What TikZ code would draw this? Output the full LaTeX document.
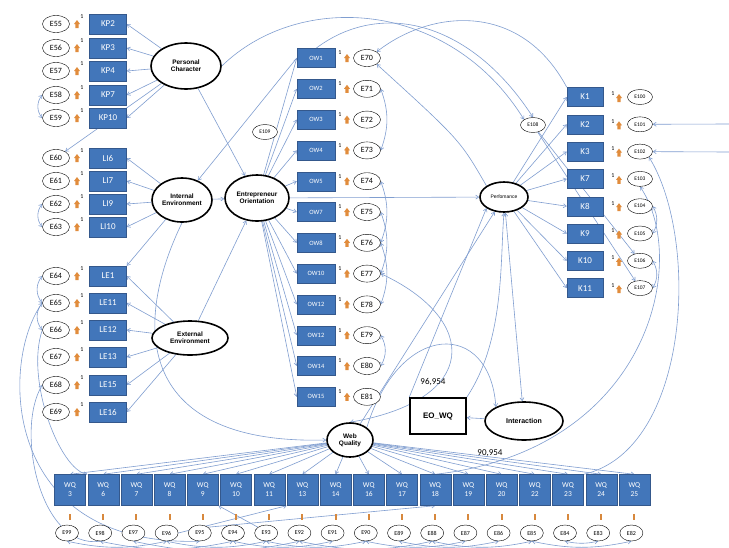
\documentclass[tikz,border=0pt]{standalone}
\usepackage{fontspec}
\setmainfont{Carlito}
\newfontfamily\latfont{Liberation Sans}
\usetikzlibrary{shapes.geometric,arrows.meta,backgrounds}
\definecolor{boxblue}{RGB}{66,118,186}
\definecolor{boxedge}{RGB}{52,88,140}
\definecolor{lineblue}{RGB}{128,158,208}
\definecolor{errorange}{RGB}{225,140,60}

\tikzset{
  ind/.style={draw=boxedge, fill=boxblue, text=white, minimum width=37pt, minimum height=20pt, inner sep=0pt, font=\fontsize{9}{9}\selectfont},
  owbox/.style={ind, minimum width=38pt, minimum height=19pt, font=\fontsize{6.5}{7}\selectfont},
  kbox/.style={ind, minimum width=36pt, minimum height=19pt},
  wqbox/.style={ind, minimum width=31pt, minimum height=31pt, align=center, font=\fontsize{7.5}{9}\selectfont},
  err/.style={draw, ellipse, fill=white, minimum width=27pt, minimum height=17pt, inner sep=0pt, font=\fontsize{8}{8}\selectfont},
  serr/.style={err, minimum width=25pt, minimum height=15pt, font=\fontsize{5.5}{6}\selectfont},
  wqerr/.style={err, minimum width=23pt, minimum height=16pt, font=\fontsize{6}{6}\selectfont},
  lat/.style={draw, ellipse, line width=1.6pt, fill=white, inner sep=0pt, align=center, font=\latfont\bfseries\fontsize{6.5}{7}\selectfont},
  link/.style={draw=lineblue, line width=0.6pt, -{Straight Barb[length=3pt,width=4pt]}},
  bid/.style={link, {Straight Barb[length=3pt,width=4pt]}-{Straight Barb[length=3pt,width=4pt]}},
  one/.style={font=\fontsize{6}{6}\selectfont, inner sep=0pt},
  pics/errtip/.style={code={\fill[errorange] (-1.6,4) rectangle (1.6,0) (-3,0) -- (3,0) -- (0,-4) -- cycle;}},
}

\begin{document}
\begin{tikzpicture}[x=1pt, y=-1pt]
\useasboundingbox (0,0) rectangle (729,547);

% left indicators
\foreach \lab/\e/\y in {KP2/55/24, KP3/56/48, KP4/57/71, KP7/58/95, KP10/59/118,
    LI6/60/158, LI7/61/181, LI9/62/204, LI10/63/227,
    LE1/64/276, LE11/65/303, LE12/66/330, LE13/67/357, LE15/68/385, LE16/69/412} {
  \node[ind] (\lab) at (108,\y) {\lab};
  \node[err] (e\e) at (56,\y) {E\e};
  \pic at (77,\y) {errtip};
  \node[one] at (82,\y-7) {1};
}

% latent variables
\node[lat, minimum width=70pt, minimum height=46pt] (pc) at (186,66) {Personal\\Character};
\node[lat, minimum width=60pt, minimum height=44pt] (ie) at (182,200) {Internal\\Environment};
\node[lat, minimum width=64pt, minimum height=46pt] (eo) at (257,198) {Entrepreneur\\Orientation};
\node[lat, minimum width=76pt, minimum height=34pt] (ee) at (190,338) {External\\Environment};
\node[lat, minimum width=48pt, minimum height=30pt, font=\latfont\fontsize{5}{5}\selectfont] (perf) at (504,197) {Perfomance};
\node[lat, minimum width=46pt, minimum height=34pt] (webq) at (350,440) {Web\\Quality};
\node[lat, minimum width=78pt, minimum height=38pt, font=\latfont\bfseries\fontsize{7}{7}\selectfont] (inter) at (524,421) {Interaction};
\node[draw, line width=1.5pt, fill=white, minimum width=56pt, minimum height=36pt, font=\latfont\bfseries\fontsize{8}{8}\selectfont] (eowq) at (438,416) {EO\_WQ};

% orientation items
\foreach \lab [count=\i] in {1,2,3,4,5,7,8,10,12,12,14,15} {
  \pgfmathsetmacro\y{58+(\i-1)*30.8}
  \pgfmathtruncatemacro\e{69+\i}
  \node[owbox] (ow\i) at (316,\y) {OW\lab};
  \node[err] (e\e) at (367,\y) {E\e};
  \pic at (347,\y) {errtip};
  \node[one] at (340,\y-5) {1};
}

% performance items
\foreach \lab [count=\i] in {1,2,3,7,8,9,10,11} {
  \pgfmathsetmacro\y{97+(\i-1)*27.3}
  \pgfmathtruncatemacro\e{99+\i}
  \node[kbox] (k\i) at (585,\y) {K\lab};
  \node[serr] (e\e) at (640,\y) {E\e};
  \pic at (619,\y+1) {errtip};
  \node[one] at (613,\y-3) {1};
}
\node[serr] (e108) at (533,125) {E108};
\node[serr] (e109) at (265,132) {E109};

% web quality items
\foreach \lab [count=\i] in {3,6,7,8,9,10,11,13,14,16,17,18,19,20,22,23,24,25} {
  \pgfmathsetmacro\x{70+(\i-1)*33.2}
  \pgfmathtruncatemacro\e{100-\i}
  \node[wqbox] (wq\i) at (\x,490) {WQ\\\lab};
  \node[wqerr] (e\e) at (\x-3,533) {E\e};
  \fill[errorange!70!brown] (\x-1,514) rectangle (\x+1,520);
}

\node[font=\fontsize{9}{9}\selectfont] (val1) at (433,382) {96,954};
\node[font=\fontsize{9}{9}\selectfont] (val2) at (490,453) {90,954};
\coordinate (rin1) at (729,124);
\coordinate (rin2) at (729,152);

\begin{scope}[on background layer]
\fill[white] (0,0) rectangle (729,547);
% loadings
\foreach \lab in {KP2,KP3,KP4,KP7,KP10} \draw[link] (pc) -- (\lab.east);
\foreach \lab in {LI6,LI7,LI9,LI10} \draw[link] (ie) -- (\lab.east);
\foreach \lab in {LE1,LE11,LE12,LE13,LE15,LE16} \draw[link] (ee) -- (\lab.east);
\foreach \i in {1,...,12} \draw[link] (eo) -- (ow\i.west);
\foreach \i in {1,...,8} \draw[link] (perf) -- (k\i.west);
\foreach \i in {1,...,18} \draw[link] (webq) -- (wq\i.north);
% structural paths
\draw[link] (pc) -- (eo);
\draw[link] (ie) -- (eo);
\draw[link] (ee) -- (eo);
\draw[link] (eo) -- (perf);
\draw[link] (inter) -- (eowq);
\draw[bid] (perf) -- (inter);
\draw[link] (webq) -- (perf);
\draw[link] (eowq.north west) -- (perf.south west);
\draw[link] (eowq.north east) .. controls (505,340) and (500,260) .. (perf.south);
\draw[link] (webq.north east) .. controls (400,320) and (490,320) .. (inter.north west);
\draw[bid] (webq.north) .. controls (480,400) and (480,320) .. (e77.east);
\draw[link] (perf.north west) .. controls (460,140) .. (e70.south east);
\draw[link] (ow1.west) -- (ie);
\draw[link] (pc) -- (e60);
\draw[link] (ie) -- (LE1.north east);
\draw[link] (ie.south) .. controls (130,330) and (140,445) .. (webq.west);
% top arcs
\draw[link] (pc.east) .. controls (300,-10) and (450,0) .. (e108.north west);
\draw[link] (ow1.north) .. controls (380,0) and (470,20) .. (e108.north);
\draw[link] (k1.north west) .. controls (520,0) and (430,10) .. (e70.north east);
\draw[link] (e108) -- (e106);
\draw[link] (e108) -- (e107);
\draw[link] (rin1) -- (e101);
\draw[link] (rin2) -- (e102);
\draw[link] (wq16.north east) .. controls (690,450) and (700,240) .. (e102.south east);
\draw[link] (wq12.north) .. controls (650,450) and (690,260) .. (e103.south);
% left curves
\draw[bid] (e58.west) to[bend right=40] (e59.west);
\draw[bid] (e62.west) to[bend right=40] (e63.west);
\draw[bid] (e64.west) to[bend right=40] (e65.west);
\draw[bid] (e65.west) to[bend right=40] (e66.west);
\draw[link] (e65.west) .. controls (0,360) and (0,547) .. (e95.south);
\draw[link] (e98.south) .. controls (40,550) and (15,430) .. (e68.west);
\draw[link] (e66.west) .. controls (25,380) and (60,470) .. (wq2.north west);
% error covariances
\draw[bid] (e71.east) to[bend left=20] (e73.east);
\draw[bid] (e74.east) to[bend left=20] (e76.east);
\draw[bid] (e75.east) to[bend left=20] (e77.east);
\draw[bid] (e76.east) to[bend left=20] (e78.east);
\draw[bid] (e79.east) to[bend left=30] (e80.east);
\draw[bid] (e104.east) to[bend left=30] (e105.east);
\draw[bid] (e106.east) to[bend left=30] (e107.east);
\foreach \a/\b in {99/96, 98/94, 97/92, 96/93, 94/91, 93/90, 92/88, 90/87, 89/86, 88/85, 85/82, 84/83}
  \draw[bid] (e\a.south) to[bend right=12] (e\b.south);
\draw[link] (e96.east) -- (wq8.south west);
\draw[link] (e93.north west) -- (wq5.south east);
\draw[link] (e95.north east) -- (wq12.south);
\end{scope}
\end{tikzpicture}
\end{document}
